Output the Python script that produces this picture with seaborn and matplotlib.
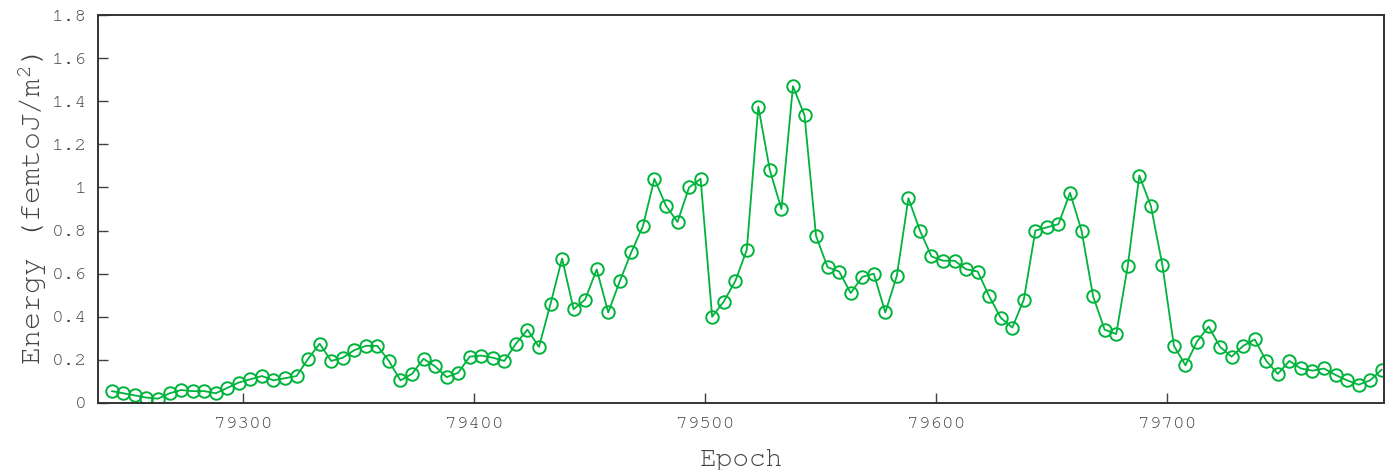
import numpy as np
import pandas as pd
import matplotlib
matplotlib.use("Agg")
import matplotlib.pyplot as plt
from matplotlib import font_manager
from matplotlib.ticker import FuncFormatter, MultipleLocator
import seaborn as sns

epochs = list(range(79243, 79794, 5))
energy = [0.055, 0.045, 0.035, 0.025, 0.02, 0.045, 0.06, 0.055, 0.055, 0.045,
          0.07, 0.095, 0.11, 0.125, 0.105, 0.115, 0.125, 0.205, 0.275, 0.195,
          0.21, 0.245, 0.265, 0.265, 0.195, 0.105, 0.135, 0.205, 0.17, 0.12,
          0.14, 0.215, 0.22, 0.21, 0.195, 0.275, 0.34, 0.26, 0.46, 0.67,
          0.435, 0.48, 0.62, 0.42, 0.565, 0.70, 0.82, 1.04, 0.915, 0.84,
          1.0, 1.04, 0.40, 0.47, 0.565, 0.71, 1.375, 1.08, 0.90, 1.47,
          1.335, 0.775, 0.63, 0.61, 0.51, 0.585, 0.60, 0.42, 0.59, 0.95,
          0.80, 0.68, 0.66, 0.66, 0.62, 0.61, 0.495, 0.395, 0.35, 0.48,
          0.80, 0.815, 0.83, 0.975, 0.80, 0.495, 0.34, 0.32, 0.635, 1.055,
          0.915, 0.64, 0.265, 0.175, 0.285, 0.355, 0.26, 0.215, 0.265, 0.295,
          0.195, 0.135, 0.195, 0.16, 0.15, 0.16, 0.13, 0.105, 0.085, 0.105,
          0.155]
x_ticks = [79300, 79400, 79500, 79600, 79700]
x_label = "Epoch"
y_label = r"Energy (femtoJ/m$^{2}$)"

df = pd.DataFrame({"Epoch": epochs, "Energy": energy})

sns.set_style("white")
available = {f.name for f in font_manager.fontManager.ttflist}
mono = "Liberation Mono"
for cand in ["Courier New", "Nimbus Mono PS", "Nimbus Mono L", "FreeMono",
             "Courier", "Courier Prime", "Liberation Mono"]:
    if cand in available:
        mono = cand
        break
plt.rcParams["font.family"] = [mono, "DejaVu Sans"]
plt.rcParams["mathtext.fontset"] = "custom"
plt.rcParams["mathtext.rm"] = mono
plt.rcParams["mathtext.it"] = mono
plt.rcParams["mathtext.default"] = "regular"

text_color = "#444444"
green = "#00b33c"

fig = plt.figure(figsize=(13.9, 4.7), dpi=100)
ax = fig.add_axes([0.0705, 0.1426, 0.9252, 0.8254])

sns.lineplot(data=df, x="Epoch", y="Energy", ax=ax, color=green, linewidth=1.3,
             marker="o", markersize=9, markerfacecolor="none",
             markeredgecolor=green, markeredgewidth=1.4)

ax.set_xlim(79237, 79794)
ax.set_ylim(0, 1.8)
ax.set_xticks(x_ticks)
ax.yaxis.set_major_locator(MultipleLocator(0.2))
ax.yaxis.set_major_formatter(FuncFormatter(lambda v, p: "%g" % round(v, 2)))

ax.tick_params(axis="both", which="major", bottom=True, left=True, top=False, right=False,
               direction="in", length=7, width=1, color="#404040",
               labelsize=14, labelcolor=text_color, pad=10)
ax.tick_params(axis="y", pad=8)

for s in ax.spines.values():
    s.set_visible(True)
    s.set_color("#333333")
    s.set_linewidth(1.4)

ax.set_xlabel(x_label, fontsize=20, color=text_color, labelpad=13)
ax.set_ylabel(y_label, fontsize=21.5, color=text_color, labelpad=2)
ax.grid(False)

fig.savefig("out.png", dpi=100)
